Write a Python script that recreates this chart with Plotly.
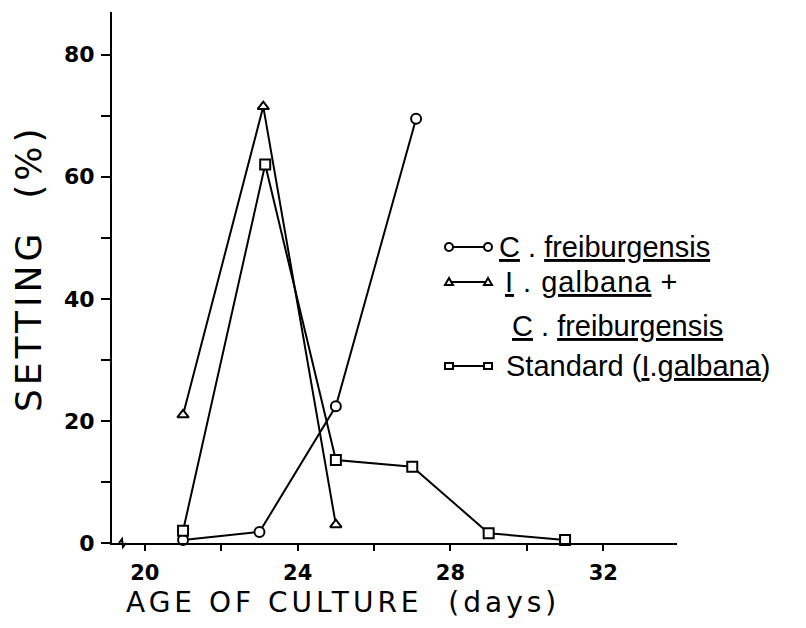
import plotly.graph_objects as go

# data
cf_days = [21, 23, 25, 27.1]
cf_setting = [0.5, 1.8, 22.4, 69.5]

ig_cf_days = [21, 23.1, 25]
ig_cf_setting = [21, 71.5, 3]

std_days = [21, 23.15, 25, 27, 29, 31]
std_setting = [2, 62, 13.6, 12.5, 1.6, 0.5]

x_ticks = [20, 24, 28, 32]
y_ticks = [0, 20, 40, 60, 80]

# page pixels of the plot area; the page body has an 8px margin
W, H = 806, 628
OFF = 8
L, R, T, B = 112, 677, 12, 543
FW, FH = W - 2 * OFF, H - 2 * OFF


def px(x):
    return (x - L) / (R - L)


def py(y):
    return (B - y) / (B - T)


fig = go.Figure()
line = dict(color="black", width=2)
for xs, ys, sym in [(cf_days, cf_setting, "circle"),
                    (ig_cf_days, ig_cf_setting, "triangle-up"),
                    (std_days, std_setting, "square")]:
    fig.add_trace(go.Scatter(
        x=xs, y=ys, mode="lines+markers", line=line, cliponaxis=False,
        marker=dict(symbol=sym, size=10, color="white",
                    line=dict(color="black", width=2)),
        showlegend=False))

font = "DejaVu Sans"
fig.update_layout(
    width=FW, height=FH,
    margin=dict(l=L - OFF, r=FW - (R - OFF), t=T - OFF, b=FH - (B - OFF)),
    paper_bgcolor="white", plot_bgcolor="white",
    showlegend=False,
    xaxis=dict(range=[19.14, 33.93], tickvals=x_ticks, ticks="outside",
               ticklen=6, tickwidth=2, tickcolor="black",
               showline=True, linecolor="black", linewidth=2,
               showgrid=False, zeroline=False, ticklabelstandoff=4,
               tickfont=dict(family=font, size=21, color="black",
                             weight="bold"),
               minor=dict(tickvals=[22, 26, 30], ticks="outside", ticklen=6,
                          tickwidth=2, tickcolor="black")),
    yaxis=dict(range=[0, 87], tickvals=y_ticks, ticks="outside",
               ticklen=9, tickwidth=2, tickcolor="black",
               showline=True, linecolor="black", linewidth=2,
               showgrid=False, zeroline=False, ticklabelstandoff=2,
               tickfont=dict(family=font, size=22, color="black",
                             weight="bold"),
               minor=dict(tickvals=[10, 30, 50, 70], ticks="outside",
                          ticklen=9, tickwidth=2, tickcolor="black")),
)

# axis titles
sp = '<span style="letter-spacing:%dpx">%s</span>'
fig.add_annotation(text=sp % (4, "AGE OF CULTURE  (days)"),
                   xref="paper", yref="paper",
                   x=px(343), y=py(602), xanchor="center", yanchor="middle",
                   showarrow=False,
                   font=dict(family=font, size=28, color="black"))
fig.add_annotation(text=sp % (4, "SETTING  (%)"), xref="paper", yref="paper",
                   x=px(28), y=py(268), xanchor="center", yanchor="middle",
                   textangle=-90, showarrow=False,
                   font=dict(family=font, size=36, color="black"))

# axis break mark
fig.add_shape(type="path", xref="paper", yref="paper",
              xsizemode="pixel", ysizemode="pixel", xanchor=0, yanchor=0,
              path="M 7 0 L 10 4 L 11 -4 L 14 0",
              line=dict(color="black", width=2))

# hand-drawn legend
u = '<span style="text-decoration:underline">%s</span>'
rows = [
    (247, "circle", 497, 0, u % "C" + " . " + u % "freiburgensis"),
    (282, "triangle", 503, 1, u % "I" + " . " + u % "galbana" + " +"),
    (326, None, 510, 0, u % "C" + " . " + u % "freiburgensis"),
    (366, "square", 504, 0,
     "Standard (" + u % "I" + "." + u % "galbana" + ")"),
]
for y, sym, tx, ls, label in rows:
    if sym:
        fig.add_shape(type="line", xref="paper", yref="paper",
                      x0=px(449), x1=px(488), y0=py(y), y1=py(y),
                      line=dict(color="black", width=2))
        for cx in (449, 488):
            common = dict(xref="paper", yref="paper",
                          xsizemode="pixel", ysizemode="pixel",
                          xanchor=px(cx), yanchor=py(y),
                          fillcolor="white",
                          line=dict(color="black", width=2))
            if sym == "circle":
                fig.add_shape(type="circle", x0=-4, x1=4, y0=-4, y1=4,
                              **common)
            elif sym == "triangle":
                fig.add_shape(type="path", path="M -4 -3 L 4 -3 L 0 4 Z",
                              **common)
            else:
                fig.add_shape(type="rect", x0=-4, x1=4, y0=-3, y1=3,
                              **common)
    fig.add_annotation(text=sp % (ls, label), xref="paper", yref="paper",
                       x=px(tx), y=py(y), xanchor="left", yanchor="middle",
                       showarrow=False,
                       font=dict(family="Liberation Sans", size=29,
                                 color="black"))

fig.write_html("out.html")
